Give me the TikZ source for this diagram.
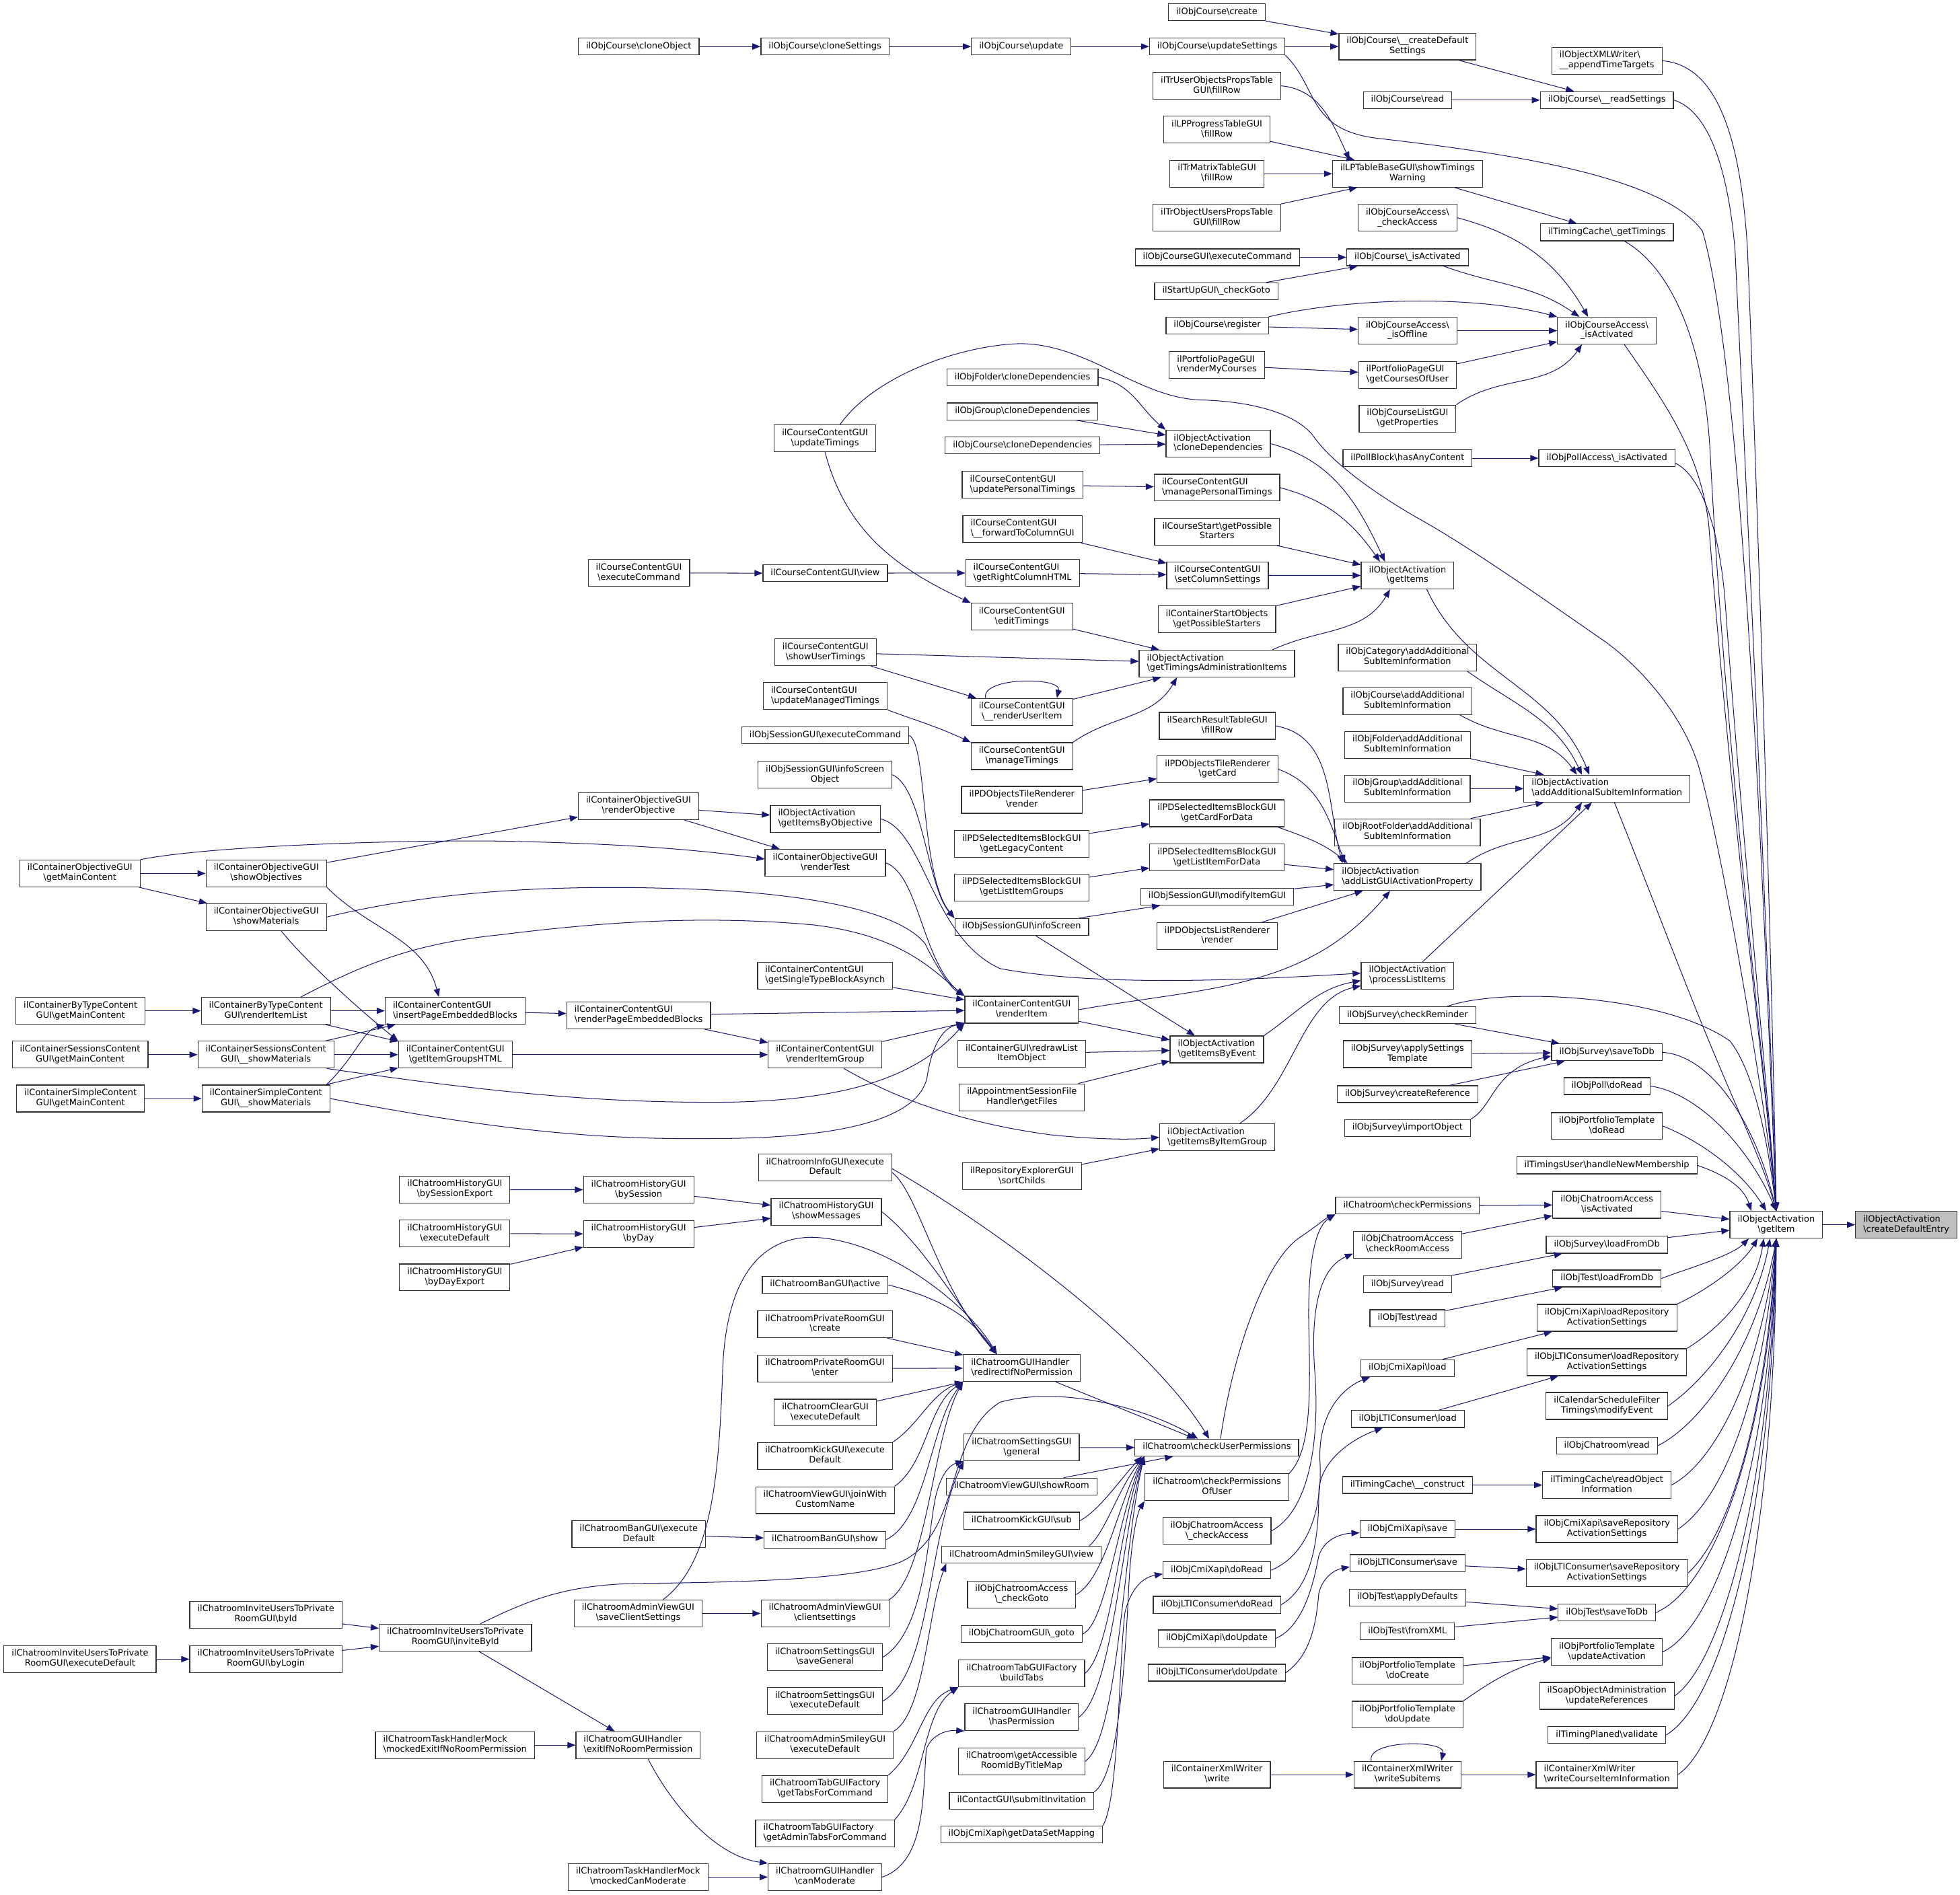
\documentclass[tikz,border=0pt]{standalone}
\usepackage{fontspec}
\setmainfont{DejaVu Sans}
\usetikzlibrary{arrows.meta}
\definecolor{edgec}{HTML}{191970}
\newcommand\bsl{\textbackslash}
\newcommand\one[1]{\strut#1}
\newcommand\two[2]{\setbox0\hbox{#1}\setbox2\hbox{#2}\ifdim\wd2>\wd0 \begin{tabular}{@{}l@{}}#1\\#2\end{tabular}\else\begin{tabular}{@{}c@{}}#1\\#2\end{tabular}\fi}
\tikzset{
 nd/.style={draw=black!80, line width=0.65pt, fill=white, inner xsep=6.2pt, inner ysep=2.75pt, font=\fontsize{7}{8}\selectfont},
 hl/.style={nd, fill=black!25},
 ed/.style={draw=edgec, line width=0.55pt, -{Triangle[length=6.5pt,width=5pt]}}
}
\begin{document}
\begin{tikzpicture}[x=1pt,y=1pt]
\fill[white] (0,0) rectangle (1568,-1516);
\useasboundingbox (0,0) rectangle (1568,-1516);
% ---------------- nodes: top area
\node[nd] (cr) at (973.5,-9.8) {\one{ilObjCourse\bsl create}};
\node[nd] (cob) at (511,-37.2) {\one{ilObjCourse\bsl cloneObject}};
\node[nd] (cse) at (660,-37.2) {\one{ilObjCourse\bsl cloneSettings}};
\node[nd] (cupd) at (817,-37.2) {\one{ilObjCourse\bsl update}};
\node[nd] (cus) at (973.8,-37.2) {\one{ilObjCourse\bsl updateSettings}};
\node[nd] (cdf) at (1126,-37.2) {\two{ilObjCourse\bsl\_\_createDefault}{Settings}};
\node[nd] (att) at (1285.5,-48.6) {\two{ilObjectXMLWriter\bsl}{\_\_appendTimeTargets}};
\node[nd] (crd) at (1126,-80.1) {\one{ilObjCourse\bsl read}};
\node[nd] (crs) at (1285.5,-80.1) {\one{ilObjCourse\bsl\_\_readSettings}};
\node[nd] (tuf) at (973.5,-68.7) {\two{ilTrUserObjectsPropsTable}{GUI\bsl fillRow}};
\node[nd] (lpp) at (973.5,-103.8) {\two{ilLPProgressTableGUI}{\bsl fillRow}};
\node[nd] (tmf) at (973.5,-139) {\two{ilTrMatrixTableGUI}{\bsl fillRow}};
\node[nd] (stw) at (1126,-139) {\two{ilLPTableBaseGUI\bsl showTimings}{Warning}};
\node[nd] (tou) at (973.5,-174.2) {\two{ilTrObjectUsersPropsTable}{GUI\bsl fillRow}};
\node[nd] (cca) at (1126,-174.2) {\two{ilObjCourseAccess\bsl}{\_checkAccess}};
\node[nd] (tcg) at (1285.5,-185.9) {\one{ilTimingCache\bsl\_getTimings}};
\node[nd] (cge) at (973.8,-205.9) {\one{ilObjCourseGUI\bsl executeCommand}};
\node[nd] (cia) at (1126,-205.9) {\one{ilObjCourse\bsl\_isActivated}};
\node[nd] (sug) at (973,-233) {\one{ilStartUpGUI\bsl\_checkGoto}};
\node[nd] (crg) at (973.8,-260.5) {\one{ilObjCourse\bsl register}};
\node[nd] (cao) at (1126,-264.6) {\two{ilObjCourseAccess\bsl}{\_isOffline}};
\node[nd] (cai) at (1285.5,-264.6) {\two{ilObjCourseAccess\bsl}{\_isActivated}};
\node[nd] (pmc) at (973.5,-292) {\two{ilPortfolioPageGUI}{\bsl renderMyCourses}};
\node[nd] (pcu) at (1126,-299.9) {\two{ilPortfolioPageGUI}{\bsl getCoursesOfUser}};
\node[nd] (clp) at (1126,-334.9) {\two{ilObjCourseListGUI}{\bsl getProperties}};
\node[nd] (pbh) at (1126,-366.6) {\one{ilPollBlock\bsl hasAnyContent}};
\node[nd] (pai) at (1285.5,-366.6) {\one{ilObjPollAccess\bsl\_isActivated}};
\node[nd] (fcd) at (818,-302) {\one{ilObjFolder\bsl cloneDependencies}};
\node[nd] (gcd) at (818,-329.2) {\one{ilObjGroup\bsl cloneDependencies}};
\node[nd] (ccd) at (818,-356.4) {\one{ilObjCourse\bsl cloneDependencies}};
\node[nd] (ocd) at (974.5,-355) {\two{ilObjectActivation}{\bsl cloneDependencies}};
\node[nd] (utm) at (660,-350.8) {\two{ilCourseContentGUI}{\bsl updateTimings}};
\node[nd] (upt) at (818,-388) {\two{ilCourseContentGUI}{\bsl updatePersonalTimings}};
\node[nd] (mpt) at (973.6,-390.2) {\two{ilCourseContentGUI}{\bsl managePersonalTimings}};
\node[nd] (fcg) at (818,-423.3) {\two{ilCourseContentGUI}{\bsl\_\_forwardToColumnGUI}};
\node[nd] (csp) at (973.6,-425.5) {\two{ilCourseStart\bsl getPossible}{Starters}};
\node[nd] (rch) at (818,-458.4) {\two{ilCourseContentGUI}{\bsl getRightColumnHTML}};
\node[nd] (ccs) at (974,-460.3) {\two{ilCourseContentGUI}{\bsl setColumnSettings}};
\node[nd] (gis) at (1126,-460.5) {\two{ilObjectActivation}{\bsl getItems}};
\node[nd] (cvw) at (660.2,-458.7) {\one{ilCourseContentGUI\bsl view}};
\node[nd] (cex) at (511.1,-458.5) {\two{ilCourseContentGUI}{\bsl executeCommand}};
\node[nd] (edt) at (817.5,-493.5) {\two{ilCourseContentGUI}{\bsl editTimings}};
\node[nd] (spo) at (973.5,-495.6) {\two{ilContainerStartObjects}{\bsl getPossibleStarters}};
\node[nd] (gta) at (973.5,-531) {\two{ilObjectActivation}{\bsl getTimingsAdministrationItems}};
\node[nd] (sut) at (660.3,-521.9) {\two{ilCourseContentGUI}{\bsl showUserTimings}};
\node[nd] (rui) at (817.5,-569.6) {\two{ilCourseContentGUI}{\bsl\_\_renderUserItem}};
\node[nd] (umt) at (660.2,-557) {\two{ilCourseContentGUI}{\bsl updateManagedTimings}};
\node[nd] (mtm) at (817.5,-605) {\two{ilCourseContentGUI}{\bsl manageTimings}};
\node[nd] (sec) at (660.2,-588.5) {\one{ilObjSessionGUI\bsl executeCommand}};
\node[nd] (srf) at (973.8,-580.8) {\two{ilSearchResultTableGUI}{\bsl fillRow}};
\node[nd] (tgc) at (974,-615.5) {\two{ilPDObjectsTileRenderer}{\bsl getCard}};
\node[nd] (trr) at (817.5,-640) {\two{ilPDObjectsTileRenderer}{\bsl render}};
\node[nd] (iso) at (660,-619.9) {\two{ilObjSessionGUI\bsl infoScreen}{Object}};
\node[nd] (gcfd) at (973.5,-650.8) {\two{ilPDSelectedItemsBlockGUI}{\bsl getCardForData}};
\node[nd] (glc) at (817.3,-675.4) {\two{ilPDSelectedItemsBlockGUI}{\bsl getLegacyContent}};
\node[nd] (glfd) at (973.5,-686.2) {\two{ilPDSelectedItemsBlockGUI}{\bsl getListItemForData}};
\node[nd] (glg) at (817.3,-710.2) {\two{ilPDSelectedItemsBlockGUI}{\bsl getListItemGroups}};
\node[nd] (mig) at (973.8,-717.5) {\one{ilObjSessionGUI\bsl modifyItemGUI}};
\node[nd] (alg) at (1126,-701.8) {\two{ilObjectActivation}{\bsl addListGUIActivationProperty}};
\node[nd] (lrr) at (973.8,-749) {\two{ilPDObjectsListRenderer}{\bsl render}};
\node[nd] (isc) at (817.4,-741.7) {\one{ilObjSessionGUI\bsl infoScreen}};
\node[nd] (oca) at (1126,-526) {\two{ilObjCategory\bsl addAdditional}{SubItemInformation}};
\node[nd] (oco) at (1126,-561) {\two{ilObjCourse\bsl addAdditional}{SubItemInformation}};
\node[nd] (ofo) at (1126,-596) {\two{ilObjFolder\bsl addAdditional}{SubItemInformation}};
\node[nd] (ogr) at (1126,-631) {\two{ilObjGroup\bsl addAdditional}{SubItemInformation}};
\node[nd] (orf) at (1126,-666) {\two{ilObjRootFolder\bsl addAdditional}{SubItemInformation}};
\node[nd] (aas) at (1285.5,-631) {\two{ilObjectActivation}{\bsl addAdditionalSubItemInformation}};
\node[nd] (gi) at (1421,-980) {\two{ilObjectActivation}{\bsl getItem}};
\node[hl] (cde) at (1525,-980) {\two{ilObjectActivation}{\bsl createDefaultEntry}};
% ---------------- left area
\node[nd] (rob) at (510.8,-645) {\two{ilContainerObjectiveGUI}{\bsl renderObjective}};
\node[nd] (gio) at (660.3,-655.2) {\two{ilObjectActivation}{\bsl getItemsByObjective}};
\node[nd] (rte) at (660.2,-690.4) {\two{ilContainerObjectiveGUI}{\bsl renderTest}};
\node[nd] (ogm) at (63.9,-698.9) {\two{ilContainerObjectiveGUI}{\bsl getMainContent}};
\node[nd] (sob) at (213,-698.9) {\two{ilContainerObjectiveGUI}{\bsl showObjectives}};
\node[nd] (smo) at (213,-733.8) {\two{ilContainerObjectiveGUI}{\bsl showMaterials}};
\node[nd] (bgm) at (64.4,-808.8) {\two{ilContainerByTypeContent}{GUI\bsl getMainContent}};
\node[nd] (ril) at (212.7,-808.8) {\two{ilContainerByTypeContent}{GUI\bsl renderItemList}};
\node[nd] (ipe) at (364.1,-808.8) {\two{ilContainerContentGUI}{\bsl insertPageEmbeddedBlocks}};
\node[nd] (rpe) at (510.9,-812.4) {\two{ilContainerContentGUI}{\bsl renderPageEmbeddedBlocks}};
\node[nd] (sgm) at (64.1,-843.9) {\two{ilContainerSessionsContent}{GUI\bsl getMainContent}};
\node[nd] (ssm) at (212.7,-843.9) {\two{ilContainerSessionsContent}{GUI\bsl\_\_showMaterials}};
\node[nd] (gih) at (364.3,-843.9) {\two{ilContainerContentGUI}{\bsl getItemGroupsHTML}};
\node[nd] (rig) at (660.1,-843.9) {\two{ilContainerContentGUI}{\bsl renderItemGroup}};
\node[nd] (imgm) at (64.4,-879) {\two{ilContainerSimpleContent}{GUI\bsl getMainContent}};
\node[nd] (ism) at (212.7,-879) {\two{ilContainerSimpleContent}{GUI\bsl\_\_showMaterials}};
\node[nd] (stb) at (660.1,-780.7) {\two{ilContainerContentGUI}{\bsl getSingleTypeBlockAsynch}};
\node[nd] (ri) at (817.3,-807.9) {\two{ilContainerContentGUI}{\bsl renderItem}};
\node[nd] (rdl) at (817.3,-843.2) {\two{ilContainerGUI\bsl redrawList}{ItemObject}};
\node[nd] (agf) at (817.5,-878) {\two{ilAppointmentSessionFile}{Handler\bsl getFiles}};
\node[nd] (gie) at (973.5,-839.7) {\two{ilObjectActivation}{\bsl getItemsByEvent}};
\node[nd] (pli) at (1126,-780.7) {\two{ilObjectActivation}{\bsl processListItems}};
\node[nd] (gig) at (973.8,-910) {\two{ilObjectActivation}{\bsl getItemsByItemGroup}};
\node[nd] (rsc) at (817.5,-941.3) {\two{ilRepositoryExplorerGUI}{\bsl sortChilds}};
% ---------------- right middle
\node[nd] (scr) at (1126,-812.3) {\one{ilObjSurvey\bsl checkReminder}};
\node[nd] (sas) at (1126,-843.5) {\two{ilObjSurvey\bsl applySettings}{Template}};
\node[nd] (scrf) at (1126,-875.5) {\one{ilObjSurvey\bsl createReference}};
\node[nd] (sio) at (1126,-902.5) {\one{ilObjSurvey\bsl importObject}};
\node[nd] (ssd) at (1285.5,-842) {\one{ilObjSurvey\bsl saveToDb}};
\node[nd] (opd) at (1285.5,-869) {\one{ilObjPoll\bsl doRead}};
\node[nd] (ptr) at (1285.5,-901) {\two{ilObjPortfolioTemplate}{\bsl doRead}};
\node[nd] (thm) at (1285.5,-932.5) {\one{ilTimingsUser\bsl handleNewMembership}};
\node[nd] (ccp) at (1126,-964.7) {\one{ilChatroom\bsl checkPermissions}};
\node[nd] (ocai) at (1285.5,-964) {\two{ilObjChatroomAccess}{\bsl isActivated}};
\node[nd] (cra) at (1126,-996) {\two{ilObjChatroomAccess}{\bsl checkRoomAccess}};
\node[nd] (slf) at (1285.5,-996) {\one{ilObjSurvey\bsl loadFromDb}};
\node[nd] (srd) at (1126,-1027.6) {\one{ilObjSurvey\bsl read}};
\node[nd] (tlf) at (1285.5,-1023) {\one{ilObjTest\bsl loadFromDb}};
\node[nd] (trd) at (1126,-1054.8) {\one{ilObjTest\bsl read}};
\node[nd] (clr) at (1285.5,-1054.5) {\two{ilObjCmiXapi\bsl loadRepository}{ActivationSettings}};
\node[nd] (cld) at (1126,-1094.8) {\one{ilObjCmiXapi\bsl load}};
\node[nd] (llr) at (1285.5,-1090) {\two{ilObjLTIConsumer\bsl loadRepository}{ActivationSettings}};
\node[nd] (cme) at (1285.5,-1125) {\two{ilCalendarScheduleFilter}{Timings\bsl modifyEvent}};
\node[nd] (lld) at (1126.2,-1135.4) {\one{ilObjLTIConsumer\bsl load}};
\node[nd] (ocr) at (1285.5,-1156.8) {\one{ilObjChatroom\bsl read}};
\node[nd] (cuperm) at (973.4,-1158.3) {\one{ilChatroom\bsl checkUserPermissions}};
\node[nd] (cpou) at (973.5,-1190) {\two{ilChatroom\bsl checkPermissions}{OfUser}};
\node[nd] (tcc) at (1126,-1188.2) {\one{ilTimingCache\bsl\_\_construct}};
\node[nd] (roi) at (1285.5,-1188.3) {\two{ilTimingCache\bsl readObject}{Information}};
\node[nd] (occa) at (973.5,-1225) {\two{ilObjChatroomAccess}{\bsl\_checkAccess}};
\node[nd] (csv) at (1126,-1223.5) {\one{ilObjCmiXapi\bsl save}};
\node[nd] (csr) at (1285.5,-1223.5) {\two{ilObjCmiXapi\bsl saveRepository}{ActivationSettings}};
\node[nd] (cdr) at (973.5,-1256.4) {\one{ilObjCmiXapi\bsl doRead}};
\node[nd] (lsv) at (1126,-1250.7) {\one{ilObjLTIConsumer\bsl save}};
\node[nd] (lsr) at (1285.5,-1258.7) {\two{ilObjLTIConsumer\bsl saveRepository}{ActivationSettings}};
\node[nd] (ldr) at (973.5,-1284.1) {\one{ilObjLTIConsumer\bsl doRead}};
\node[nd] (tad) at (1126,-1278.2) {\one{ilObjTest\bsl applyDefaults}};
\node[nd] (tsd) at (1285.5,-1290.3) {\one{ilObjTest\bsl saveToDb}};
\node[nd] (tfx) at (1126,-1305.4) {\one{ilObjTest\bsl fromXML}};
\node[nd] (cdu) at (973.5,-1311) {\one{ilObjCmiXapi\bsl doUpdate}};
\node[nd] (pua) at (1285.5,-1321.8) {\two{ilObjPortfolioTemplate}{\bsl updateActivation}};
\node[nd] (pdc) at (1126,-1337) {\two{ilObjPortfolioTemplate}{\bsl doCreate}};
\node[nd] (ldu) at (973.5,-1338.4) {\one{ilObjLTIConsumer\bsl doUpdate}};
\node[nd] (sur) at (1285.5,-1357) {\two{ilSoapObjectAdministration}{\bsl updateReferences}};
\node[nd] (pdu) at (1126,-1372) {\two{ilObjPortfolioTemplate}{\bsl doUpdate}};
\node[nd] (tpv) at (1285.5,-1388.3) {\one{ilTimingPlaned\bsl validate}};
\node[nd] (xw) at (973.5,-1420) {\two{ilContainerXmlWriter}{\bsl write}};
\node[nd] (xws) at (1126,-1420) {\two{ilContainerXmlWriter}{\bsl writeSubitems}};
\node[nd] (xwc) at (1285.5,-1420) {\two{ilContainerXmlWriter}{\bsl writeCourseItemInformation}};
% ---------------- chatroom column 817
\node[nd] (rdp) at (817.5,-1094.7) {\two{ilChatroomGUIHandler}{\bsl redirectIfNoPermission}};
\node[nd] (sgg) at (817.3,-1158.2) {\two{ilChatroomSettingsGUI}{\bsl general}};
\node[nd] (vsr) at (817.3,-1189.5) {\one{ilChatroomViewGUI\bsl showRoom}};
\node[nd] (kgs) at (817.3,-1216.8) {\one{ilChatroomKickGUI\bsl sub}};
\node[nd] (asv) at (817.2,-1244) {\one{ilChatroomAdminSmileyGUI\bsl view}};
\node[nd] (ocg) at (817.3,-1275.9) {\two{ilObjChatroomAccess}{\bsl\_checkGoto}};
\node[nd] (ogo) at (817.3,-1307.4) {\one{ilObjChatroomGUI\bsl\_goto}};
\node[nd] (tbt) at (817.3,-1339) {\two{ilChatroomTabGUIFactory}{\bsl buildTabs}};
\node[nd] (ghp) at (817.3,-1374) {\two{ilChatroomGUIHandler}{\bsl hasPermission}};
\node[nd] (gar) at (817.3,-1409.3) {\two{ilChatroom\bsl getAccessible}{RoomIdByTitleMap}};
\node[nd] (csi) at (817.3,-1440.9) {\one{ilContactGUI\bsl submitInvitation}};
\node[nd] (dsm) at (817.3,-1467.8) {\one{ilObjCmiXapi\bsl getDataSetMapping}};
% ---------------- chatroom column 660
\node[nd] (ied) at (660.1,-934.2) {\two{ilChatroomInfoGUI\bsl execute}{Default}};
\node[nd] (hsm) at (661,-969.6) {\two{ilChatroomHistoryGUI}{\bsl showMessages}};
\node[nd] (bac) at (660.1,-1028.1) {\one{ilChatroomBanGUI\bsl active}};
\node[nd] (prc) at (660,-1059.6) {\two{ilChatroomPrivateRoomGUI}{\bsl create}};
\node[nd] (pre) at (660,-1095) {\two{ilChatroomPrivateRoomGUI}{\bsl enter}};
\node[nd] (cle) at (660.3,-1130.3) {\two{ilChatroomClearGUI}{\bsl executeDefault}};
\node[nd] (kge) at (660,-1165) {\two{ilChatroomKickGUI\bsl execute}{Default}};
\node[nd] (vjw) at (660,-1200.4) {\two{ilChatroomViewGUI\bsl joinWith}{CustomName}};
\node[nd] (bsh) at (660,-1232) {\one{ilChatroomBanGUI\bsl show}};
\node[nd] (avc) at (660,-1291) {\two{ilChatroomAdminViewGUI}{\bsl clientsettings}};
\node[nd] (ssg) at (660,-1326) {\two{ilChatroomSettingsGUI}{\bsl saveGeneral}};
\node[nd] (sed) at (660,-1361) {\two{ilChatroomSettingsGUI}{\bsl executeDefault}};
\node[nd] (ased) at (660,-1396.4) {\two{ilChatroomAdminSmileyGUI}{\bsl executeDefault}};
\node[nd] (gtc) at (660,-1431.5) {\two{ilChatroomTabGUIFactory}{\bsl getTabsForCommand}};
\node[nd] (gatc) at (660,-1467) {\two{ilChatroomTabGUIFactory}{\bsl getAdminTabsForCommand}};
\node[nd] (gcm) at (660,-1502) {\two{ilChatroomGUIHandler}{\bsl canModerate}};
% ---------------- chatroom columns 511, 364, 213, 64
\node[nd] (hbs) at (510.9,-952) {\two{ilChatroomHistoryGUI}{\bsl bySession}};
\node[nd] (hbd) at (510.9,-987.4) {\two{ilChatroomHistoryGUI}{\bsl byDay}};
\node[nd] (bed) at (511,-1227.7) {\two{ilChatroomBanGUI\bsl execute}{Default}};
\node[nd] (avs) at (510.5,-1291) {\two{ilChatroomAdminViewGUI}{\bsl saveClientSettings}};
\node[nd] (exr) at (510.5,-1396.4) {\two{ilChatroomGUIHandler}{\bsl exitIfNoRoomPermission}};
\node[nd] (mcm) at (510.5,-1502) {\two{ilChatroomTaskHandlerMock}{\bsl mockedCanModerate}};
\node[nd] (hse) at (363.8,-951.9) {\two{ilChatroomHistoryGUI}{\bsl bySessionExport}};
\node[nd] (hed) at (363.8,-987) {\two{ilChatroomHistoryGUI}{\bsl executeDefault}};
\node[nd] (hde) at (363.8,-1022.1) {\two{ilChatroomHistoryGUI}{\bsl byDayExport}};
\node[nd] (ibi) at (364.3,-1310.3) {\two{ilChatroomInviteUsersToPrivate}{RoomGUI\bsl inviteById}};
\node[nd] (mex) at (364,-1396.4) {\two{ilChatroomTaskHandlerMock}{\bsl mockedExitIfNoRoomPermission}};
\node[nd] (iby) at (212.7,-1292) {\two{ilChatroomInviteUsersToPrivate}{RoomGUI\bsl byId}};
\node[nd] (ibl) at (212.7,-1327.6) {\two{ilChatroomInviteUsersToPrivate}{RoomGUI\bsl byLogin}};
\node[nd] (ied0) at (64,-1327.6) {\two{ilChatroomInviteUsersToPrivate}{RoomGUI\bsl executeDefault}};
% ================= edges
\draw[ed] (cr) -- (cdf);
\draw[ed] (cob) -- (cse);
\draw[ed] (cse) -- (cupd);
\draw[ed] (cupd) -- (cus);
\draw[ed] (cus) -- (cdf);
\draw[ed] (cdf) -- (crs);
\draw[ed] (crd) -- (crs);
\draw[ed] (tuf.east) to[out=-5,in=115] ([xshift=14pt]stw.north west);
\draw[ed] (lpp) -- ([xshift=18pt]stw.north west);
\draw[ed] (tmf) -- (stw);
\draw[ed] (tou) -- ([xshift=20pt]stw.south west);
\draw[ed] (stw) -- (tcg);
\draw[ed] (cca.east) to[out=-15,in=120] ([xshift=-15pt]cai.north);
\draw[ed] (cge) -- (cia);
\draw[ed] (sug) -- (cia);
\draw[ed] ([xshift=-20pt]cia.south east) to[out=-20,in=145] ([xshift=-22pt]cai.north);
\draw[ed] (crg.north east) .. controls (1080,-238) and (1180,-236) .. (cai.north west);
\draw[ed] (crg) -- (cao);
\draw[ed] (cao) -- (cai);
\draw[ed] (pmc) -- (pcu);
\draw[ed] (pcu) -- (cai);
\draw[ed] (clp.north east) to[out=35,in=-125] ([xshift=-20pt]cai.south);
\draw[ed] (pbh) -- (pai);
\draw[ed] (fcd.east) to[out=-10,in=140] (ocd.north west);
\draw[ed] (gcd) -- (ocd);
\draw[ed] (ccd) -- (ocd);
\draw[ed] (ocd.east) to[out=-15,in=115] ([xshift=-18pt]gis.north);
\draw[ed] (upt) -- (mpt);
\draw[ed] (mpt.east) to[out=-15,in=125] ([xshift=-22pt]gis.north);
\draw[ed] (fcg) -- (ccs);
\draw[ed] (rch) -- (ccs);
\draw[ed] (cex) -- (cvw);
\draw[ed] (cvw) -- (rch);
\draw[ed] (csp) -- (gis);
\draw[ed] (ccs) -- (gis);
\draw[ed] (spo) -- (gis);
\draw[ed] (utm.south) to[out=-75,in=155] (edt.north west);
\draw[ed] (edt) -- (gta);
\draw[ed] (sut) -- (gta);
\draw[ed] (sut) -- (rui);
\draw[ed] ([xshift=-29pt]rui.north) .. controls +(-4,17) and +(4,17) .. ([xshift=28pt]rui.north);
\draw[ed] (rui) -- (gta);
\draw[ed] (umt.south east) to[out=-20,in=155] (mtm.north west);
\draw[ed] (mtm.north east) to[out=35,in=-120] ([xshift=-32pt]gta.south);
\draw[ed] ([xshift=-18pt]gta.north east) to[out=25,in=-120] ([xshift=-14pt]gis.south);
\draw[ed] ([xshift=-22pt]gis.south east) to[out=-65,in=112] ([xshift=-14pt]aas.north);
\draw[ed] ([xshift=-8pt]oca.south east) to[out=-35,in=115] ([xshift=-20pt]aas.north);
\draw[ed] ([xshift=-10pt]oco.south east) to[out=-30,in=125] ([xshift=-24pt]aas.north);
\draw[ed] (ofo) -- (aas);
\draw[ed] (ogr) -- (aas);
\draw[ed] (orf) -- (aas);
\draw[ed] ([xshift=-12pt]alg.north east) to[out=35,in=-125] ([xshift=-20pt]aas.south);
\draw[ed] ([xshift=12pt]pli.north) -- ([xshift=-12pt]aas.south);
\draw[ed] (srf.east) to[out=-10,in=105] ([xshift=-52pt]alg.north);
\draw[ed] (tgc.east) to[out=-20,in=110] ([xshift=-50pt]alg.north);
\draw[ed] (trr) -- (tgc);
\draw[ed] ([xshift=-5pt]gcfd.south east) to[out=-20,in=140] ([xshift=-48pt]alg.north);
\draw[ed] (glc) -- (gcfd);
\draw[ed] (glfd) -- (alg);
\draw[ed] (glg) -- (glfd);
\draw[ed] (mig) -- (alg);
\draw[ed] (isc) -- (mig);
\draw[ed] (lrr) -- (alg);
\draw[ed] (ri.east) to[out=10,in=-130] ([xshift=-14pt]alg.south);
\draw[ed] (ri) -- (gie);
\draw[ed] (rdl) -- (gie);
\draw[ed] (agf) -- (gie);
\draw[ed] (isc) -- (gie);
\draw[ed] (gie.north east) to[out=35,in=190] ([yshift=-4pt]pli.west);
\draw[ed] ([xshift=18pt]gig.north) .. controls (1035,-870) and (1040,-800) .. ([yshift=3pt]pli.south west);
\draw[ed] (gio.east) .. controls (740,-665) and (745,-750) .. (800,-775) .. controls (880,-790) and (1000,-784) .. ([yshift=2pt]pli.west);
\draw[ed] (rte.east) .. controls (735,-700) and (738,-770) .. (ri.north west);
\draw[ed] (sec.east) .. controls (742,-595) and (736,-700) .. (isc.north west);
\draw[ed] (iso.east) .. controls (738,-630) and (742,-710) .. (isc.north west);
\draw[ed] (stb) -- (ri);
\draw[ed] (rpe) -- (ri);
\draw[ed] (rpe) -- (rig);
\draw[ed] (gih) -- (rig);
\draw[ed] (rig) -- (ri);
\draw[ed] ([xshift=15pt]rig.south) .. controls (710,-875) and (760,-897) .. (840,-908) .. controls (880,-912) and (905,-912) .. (gig.west);
\draw[ed] (rsc) -- (gig);
% left
\draw[ed] (ogm) -- (sob);
\draw[ed] (ogm) -- (smo);
\draw[ed] (ogm.north east) .. controls (160,-678) and (300,-672) .. (400,-673) .. controls (500,-675) and (560,-680) .. ([yshift=3pt]rte.west);
\draw[ed] (sob) -- (rob);
\draw[ed] (sob.south east) to[out=-45,in=105] ([xshift=-13pt]ipe.north);
\draw[ed] (smo.east) .. controls (350,-712) and (450,-708) .. (541,-711) .. controls (650,-714) and (720,-730) .. (740,-755) .. controls (750,-775) and (760,-790) .. (ri.north west);
\draw[ed] ([xshift=12pt]smo.south) .. controls (245,-770) and (290,-810) .. (gih.north west);
\draw[ed] (rob) -- (gio);
\draw[ed] (rob) -- (rte);
\draw[ed] (ril) -- (ipe);
\draw[ed] (ril) -- (gih);
\draw[ed] ([xshift=-24pt]ril.north east) .. controls (290,-772) and (330,-755) .. (400,-748) .. controls (480,-738) and (560,-732) .. (650,-740) .. controls (720,-748) and (745,-775) .. (ri.north west);
\draw[ed] (ssm) -- (ipe);
\draw[ed] (ssm) -- (gih);
\draw[ed] ([xshift=-6pt]ssm.south east) .. controls (400,-875) and (480,-882) .. (570,-882) .. controls (680,-882) and (735,-860) .. (ri.south west);
\draw[ed] ([xshift=-3pt]ism.north east) .. controls (285,-845) and (290,-825) .. (ipe.south west);
\draw[ed] (ism) -- (gih);
\draw[ed] (ism.east) .. controls (400,-905) and (480,-912) .. (570,-911) .. controls (690,-911) and (738,-890) .. (742,-860) .. controls (746,-835) and (755,-822) .. (ri.south west);
\draw[ed] (bgm) -- (ril);
\draw[ed] (sgm) -- (ssm);
\draw[ed] (imgm) -- (ism);
\draw[ed] (ipe) -- (rpe);
% chatroom
\draw[ed] (hse) -- (hbs);
\draw[ed] (hed) -- (hbd);
\draw[ed] (hde) -- (hbd);
\draw[ed] (hbs) -- (hsm);
\draw[ed] (hbd) -- (hsm);
\draw[ed] (hsm.east) .. controls (738,-995) and (770,-1050) .. ([xshift=-20pt]rdp.north);
\draw[ed] ([yshift=-4pt]ied.east) .. controls (735,-955) and (750,-1030) .. ([xshift=-20pt]rdp.north);
\draw[ed] ([yshift=-1pt]ied.east) .. controls (800,-985) and (920,-1075) .. ([xshift=-6pt]cuperm.north);
\draw[ed] (bac.east) to[out=-15,in=125] ([xshift=-20pt]rdp.north);
\draw[ed] (prc) -- (rdp);
\draw[ed] (pre) -- (rdp);
\draw[ed] (cle) -- (rdp.south west);
\draw[ed] (kge.north east) .. controls (735,-1140) and (745,-1115) .. (rdp.south west);
\draw[ed] (vjw.north east) .. controls (742,-1170) and (742,-1125) .. (rdp.south west);
\draw[ed] (bsh.east) .. controls (742,-1215) and (744,-1140) .. (rdp.south west);
\draw[ed] (avc.north east) .. controls (742,-1260) and (746,-1150) .. (rdp.south west);
\draw[ed] ([xshift=20pt]avs.north) .. controls (570,-1250) and (575,-1180) .. (578,-1100) .. controls (580,-1020) and (610,-990) .. (650,-990) .. controls (710,-992) and (775,-1045) .. ([xshift=-20pt]rdp.north);
\draw[ed] (avs) -- (avc);
\draw[ed] (bed) -- (bsh);
\draw[ed] (rdp) -- (cuperm);
\draw[ed] ([xshift=20pt]ibi.north) .. controls (420,-1282) and (450,-1268) .. (510,-1267) .. controls (620,-1266) and (690,-1262) .. (720,-1250) .. controls (770,-1228) and (755,-1150) .. (800,-1122) .. controls (850,-1108) and (920,-1128) .. ([xshift=-15pt]cuperm.north);
\draw[ed] (iby) -- (ibi);
\draw[ed] (ibl) -- (ibi);
\draw[ed] (ied0) -- (ibl);
\draw[ed] (ibi) -- (exr);
\draw[ed] (mex) -- (exr);
\draw[ed] ([xshift=8pt]exr.south) .. controls (535,-1440) and (570,-1485) .. (gcm.north west);
\draw[ed] (mcm) -- (gcm);
\draw[ed] (gcm.east) .. controls (740,-1490) and (738,-1440) .. (741,-1400) .. controls (744,-1390) and (755,-1384) .. (ghp.south west);
\draw[ed] (gtc.north east) .. controls (735,-1400) and (738,-1360) .. (tbt.south west);
\draw[ed] (gatc.north east) .. controls (740,-1430) and (738,-1370) .. (tbt.south west);
\draw[ed] (ssg.east) .. controls (740,-1305) and (742,-1230) .. (748,-1200) .. controls (752,-1180) and (760,-1172) .. (sgg.south west);
\draw[ed] (sed.east) .. controls (745,-1340) and (742,-1230) .. (sgg.south west);
\draw[ed] (ased.north east) .. controls (740,-1370) and (742,-1290) .. ([xshift=4pt]asv.south west);
\draw[ed] (sgg) -- (cuperm);
\draw[ed] ([xshift=-27pt]vsr.north east) -- ([xshift=-35pt]cuperm.south);
\draw[ed] (kgs.east) .. controls (880,-1208) and (895,-1185) .. ([xshift=-60pt]cuperm.south);
\draw[ed] ([xshift=-10pt]asv.north east) .. controls (885,-1225) and (895,-1190) .. ([xshift=-58pt]cuperm.south);
\draw[ed] (ocg.east) .. controls (885,-1262) and (895,-1200) .. ([xshift=-58pt]cuperm.south);
\draw[ed] (ogo.east) .. controls (885,-1300) and (895,-1210) .. ([xshift=-58pt]cuperm.south);
\draw[ed] (tbt.east) .. controls (890,-1320) and (895,-1220) .. ([xshift=-58pt]cuperm.south);
\draw[ed] (ghp.east) .. controls (890,-1355) and (897,-1230) .. ([xshift=-58pt]cuperm.south);
\draw[ed] (gar.east) .. controls (895,-1390) and (898,-1240) .. ([xshift=-58pt]cuperm.south);
\draw[ed] (csi.north east) .. controls (895,-1420) and (900,-1330) .. (903,-1270) .. controls (905,-1230) and (910,-1210) .. (cpou.south west);
\draw[ed] (dsm.north east) .. controls (895,-1440) and (895,-1330) .. (900,-1290) .. controls (905,-1270) and (915,-1262) .. ([yshift=-3pt]cdr.west);
\draw[ed] ([xshift=3pt]cuperm.north) .. controls (985,-1090) and (1010,-1010) .. (1040,-990) .. controls (1055,-980) and (1060,-975) .. (ccp.south west);
\draw[ed] (cpou.north east) .. controls (1050,-1160) and (1048,-1110) .. (1047,-1060) .. controls (1046,-1000) and (1055,-980) .. (ccp.south west);
\draw[ed] (occa.east) .. controls (1045,-1210) and (1056,-1160) .. (1052,-1100) .. controls (1048,-1050) and (1055,-1015) .. ([yshift=4pt]cra.south west);
\draw[ed] (cdr.east) .. controls (1045,-1245) and (1058,-1210) .. (1056,-1170) .. controls (1054,-1130) and (1075,-1110) .. ([xshift=-30pt]cld.south);
\draw[ed] (ldr.east) .. controls (1050,-1270) and (1055,-1230) .. (1055,-1195) .. controls (1055,-1170) and (1080,-1152) .. ([xshift=-20pt]lld.south);
\draw[ed] (cdu.east) .. controls (1045,-1300) and (1052,-1260) .. (1055,-1245) .. controls (1060,-1230) and (1075,-1227) .. ([yshift=-3pt]csv.west);
\draw[ed] (ldu.east) .. controls (1048,-1325) and (1053,-1300) .. (1055,-1275) .. controls (1058,-1262) and (1068,-1256) .. ([yshift=-3pt]lsv.west);
\draw[ed] (ccp) -- (ocai);
\draw[ed] (cra) -- (ocai);
\draw[ed] (srd) -- (slf);
\draw[ed] (trd) -- (tlf);
\draw[ed] (cld) -- (clr);
\draw[ed] (lld) -- (llr);
\draw[ed] (tcc) -- (roi);
\draw[ed] (csv) -- (csr);
\draw[ed] (lsv) -- (lsr);
\draw[ed] (tad) -- (tsd);
\draw[ed] (tfx) -- (tsd);
\draw[ed] (pdc) -- (pua);
\draw[ed] (pdu.north east) to[out=35,in=195] ([yshift=-5pt]pua.west);
\draw[ed] (xw) -- (xws);
\draw[ed] ([xshift=-29pt]xws.north) .. controls +(-4,17) and +(4,17) .. ([xshift=27pt]xws.north);
\draw[ed] (xws) -- (xwc);
\draw[ed] (scr) -- (ssd);
\draw[ed] (sas) -- (ssd);
\draw[ed] (scrf) -- (ssd);
\draw[ed] (sio.north east) .. controls (1195,-885) and (1195,-855) .. ([yshift=-3pt]ssd.west);
% fan into getItem
\draw[ed] (cus.south east) .. controls (1055,-70) and (1045,-105) .. (1105,-111) .. controls (1200,-122) and (1330,-140) .. (1362,-185) .. controls (1395,-300) and (1410,-700) .. (gi.north);
\draw[ed] (att.east) .. controls (1370,-52) and (1392,-100) .. (1398,-200) .. controls (1408,-450) and (1418,-800) .. (gi.north);
\draw[ed] (crs.east) .. controls (1365,-88) and (1382,-130) .. (1388,-200) .. controls (1400,-450) and (1416,-800) .. (gi.north);
\draw[ed] ([xshift=14pt]tcg.south) .. controls (1330,-210) and (1362,-260) .. (1368,-360) .. controls (1380,-600) and (1412,-850) .. (gi.north);
\draw[ed] ([xshift=14pt]cai.south) .. controls (1330,-320) and (1360,-360) .. (1367,-420) .. controls (1385,-650) and (1412,-860) .. (gi.north);
\draw[ed] ([yshift=-4pt]pai.east) .. controls (1360,-380) and (1375,-420) .. (1380,-480) .. controls (1392,-650) and (1414,-870) .. (gi.north);
\draw[ed] ([xshift=12pt]utm.north) .. controls (700,-300) and (770,-276) .. (816,-275) .. controls (870,-275) and (910,-318) .. (960,-320) .. controls (1000,-321) and (1035,-330) .. (1050,-348) .. controls (1065,-370) and (1100,-395) .. (1135,-415) .. controls (1180,-440) and (1250,-490) .. (1285,-514) .. controls (1320,-540) and (1350,-580) .. (1360,-617) .. controls (1380,-690) and (1415,-900) .. (gi.north);
\draw[ed] ([xshift=6pt]aas.south) .. controls (1315,-700) and (1345,-780) .. (1370,-840) .. controls (1395,-900) and (1410,-930) .. (gi.north);
\draw[ed] ([xshift=-23pt]scr.north east) .. controls (1200,-790) and (1330,-795) .. (1384,-833) .. controls (1405,-860) and (1415,-920) .. (gi.north);
\draw[ed] (ssd.east) .. controls (1370,-845) and (1405,-900) .. (gi.north);
\draw[ed] (opd.east) .. controls (1360,-875) and (1400,-920) .. (gi.north);
\draw[ed] (ptr.east) .. controls (1365,-915) and (1395,-940) .. ([xshift=-8pt]gi.north);
\draw[ed] (thm.east) .. controls (1380,-940) and (1395,-950) .. ([xshift=-20pt]gi.north);
\draw[ed] (ocai) -- (gi);
\draw[ed] (slf) -- (gi);
\draw[ed] (tlf.east) .. controls (1350,-1015) and (1385,-1005) .. ([xshift=-22pt]gi.south);
\draw[ed] (clr.north east) .. controls (1370,-1030) and (1395,-1010) .. ([xshift=-15pt]gi.south);
\draw[ed] (llr.north east) .. controls (1380,-1060) and (1405,-1030) .. ([xshift=-10pt]gi.south);
\draw[ed] (cme.east) .. controls (1370,-1100) and (1405,-1050) .. ([xshift=-5pt]gi.south);
\draw[ed] (ocr.east) .. controls (1360,-1140) and (1405,-1080) .. (gi.south);
\draw[ed] (roi.east) .. controls (1372,-1170) and (1408,-1100) .. (gi.south);
\draw[ed] (csr.east) .. controls (1378,-1200) and (1410,-1120) .. (gi.south);
\draw[ed] (lsr.east) .. controls (1382,-1230) and (1412,-1140) .. (gi.south);
\draw[ed] (tsd.east) .. controls (1372,-1270) and (1414,-1150) .. (gi.south);
\draw[ed] (pua.east) .. controls (1375,-1300) and (1415,-1170) .. (gi.south);
\draw[ed] (sur.east) .. controls (1378,-1330) and (1416,-1190) .. (gi.south);
\draw[ed] (tpv.east) .. controls (1380,-1360) and (1418,-1200) .. (gi.south);
\draw[ed] (xwc.east) .. controls (1385,-1390) and (1420,-1220) .. (gi.south);
\draw[ed] (gi) -- (cde);
\end{tikzpicture}
\end{document}
